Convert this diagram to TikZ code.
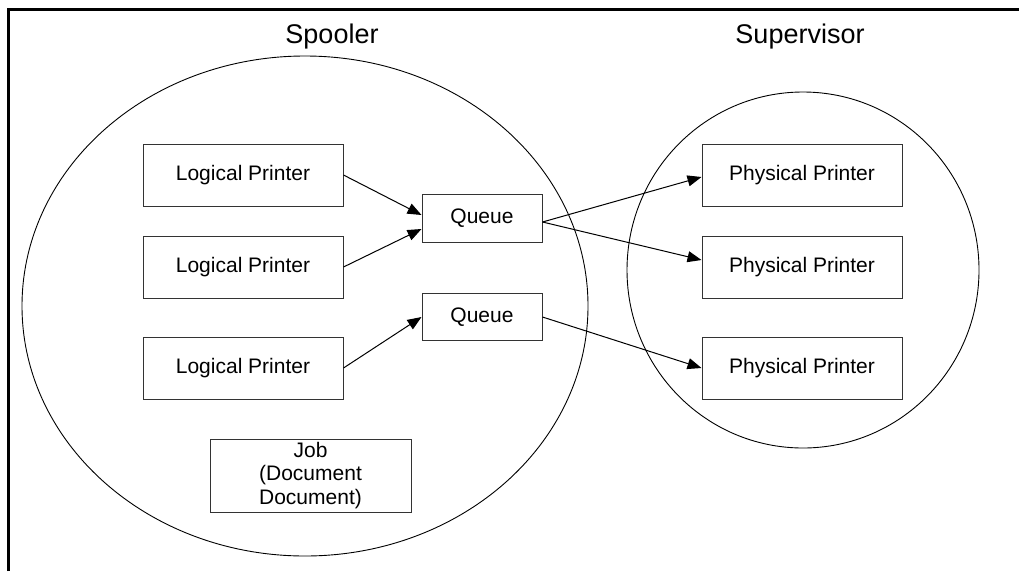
\documentclass[tikz,border=0pt]{standalone}
\usepackage{fontspec}
\setmainfont{Liberation Sans}
\usetikzlibrary{arrows.meta,shapes.geometric}
\tikzset{
  box/.style={draw=black!80, line width=1pt, minimum width=200pt, minimum height=62pt,
    inner sep=0pt, font=\fontsize{21}{23.5}\selectfont},
  queuebox/.style={box, minimum width=120pt, minimum height=48pt},
  area/.style={draw, ellipse, line width=0.9pt, inner sep=0pt},
  title/.style={font=\fontsize{27}{30}\selectfont, inner sep=0pt},
  flow/.style={-{Triangle[length=14pt,width=11pt]}, line width=1pt}
}
\begin{document}
\begin{tikzpicture}[x=1pt,y=-1pt]
    \useasboundingbox (0,0) rectangle (1019,571);
    % frame
    \draw[line width=3pt] (8,571) -- (8,9) -- (1019,9);

    % Spooler
    \node[area, minimum width=566pt, minimum height=500pt] (spooler) at (305,306) {};
    \node[title] (spoolertitle) at (332,37) {Spooler};
    \node[box] (lp1) at (243,175) {Logical Printer};
    \node[box] (lp2) at (243,267) {Logical Printer};
    \node[box] (lp3) at (243,368) {Logical Printer};
    \node[queuebox] (q1) at (482,218) {Queue};
    \node[queuebox, minimum height=47pt] (q2) at (482,317) {Queue};
    \node[box, minimum width=201pt, minimum height=73pt, align=center] (job) at (310.5,475.5)
      {Job\\(Document\\Document)};

    % Supervisor
    \node[area, minimum width=352pt, minimum height=356pt] (supervisor) at (803,270) {};
    \node[title] (supervisortitle) at (800,37) {Supervisor};
    \node[box] (pp1) at (802,175) {Physical Printer};
    \node[box] (pp2) at (802,267) {Physical Printer};
    \node[box] (pp3) at (802,368) {Physical Printer};

    % Connections
    \draw[flow] (lp1.east) -- ([yshift=3pt]q1.west);
    \draw[flow] (lp2.east) -- ([yshift=-11pt]q1.west);
    \draw[flow] (lp3.east) -- (q2.west);
    \draw[flow] ([yshift=-4pt]q1.east) -- ([yshift=-2pt]pp1.west);
    \draw[flow] ([yshift=-4pt]q1.east) -- ([yshift=7pt]pp2.west);
    \draw[flow] (q2.east) -- (pp3.west);
\end{tikzpicture}
\end{document}
